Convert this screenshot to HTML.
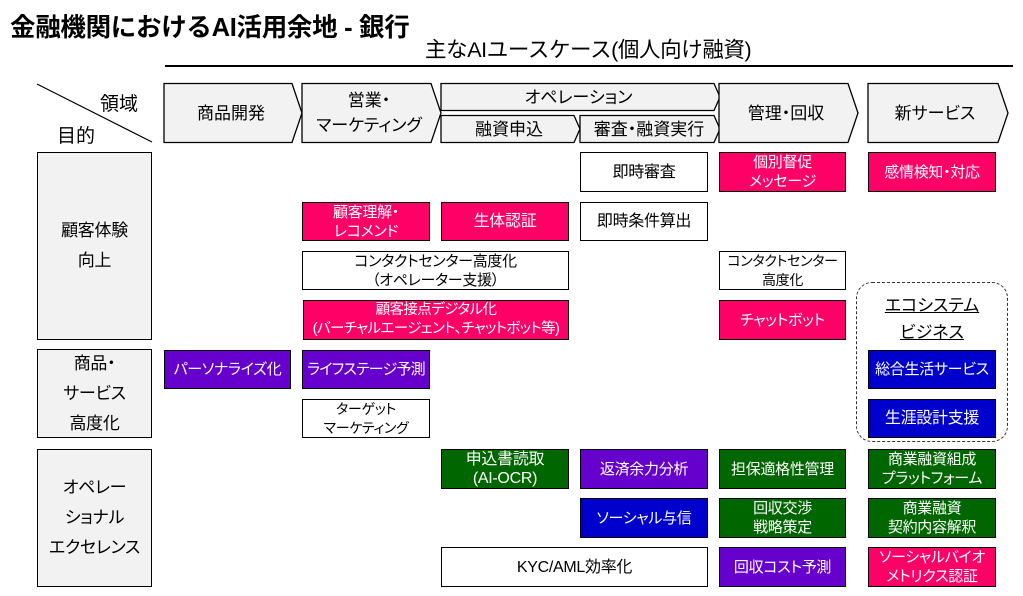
<!DOCTYPE html>
<html><head><meta charset="utf-8"><style>
*{margin:0;padding:0;box-sizing:border-box}
body{width:1023px;height:596px;background:#fff;position:relative;overflow:hidden;font-family:"Liberation Sans","Noto Sans CJK JP",sans-serif;color:#000}
.a{position:absolute}
.b{position:absolute;border:1.5px solid #000;display:flex;align-items:center;justify-content:center;text-align:center;font-size:15px;line-height:19px;letter-spacing:-0.3px;white-space:nowrap;font-feature-settings:"palt" 1;overflow:visible}
.w{background:#fff}
.p{background:#ff0066;color:#fff}
.v{background:#6600cc;color:#fff}
.u{background:#0000cc;color:#fff}
.g{background:#006600;color:#fff}
.l{background:#f2f2f2;font-size:17px;line-height:30px}
.h{position:absolute;display:flex;align-items:center;justify-content:center;text-align:center;font-size:17px;line-height:25px;white-space:nowrap;font-feature-settings:"palt" 1}
</style></head><body>
<div class="a" style="left:10px;top:7px;font-size:25.5px;font-weight:bold;letter-spacing:-0.3px;white-space:nowrap">金融機関におけるAI活用余地 - 銀行</div>
<div class="a" style="left:425px;top:33px;font-size:21.5px;letter-spacing:-0.4px;white-space:nowrap">主なAIユースケース(個人向け融資)</div>
<div class="a" style="left:165px;top:65px;width:848px;height:1.5px;background:#000"></div>

<svg class="a" style="left:0;top:0" width="1023" height="160">
<line x1="37" y1="84" x2="152" y2="142" stroke="#000" stroke-width="1.2"/>
<g fill="#f2f2f2" stroke="#000" stroke-width="1.3">
<polygon points="164,83.5 292,83.5 302,113 292,142.5 164,142.5"/>
<polygon points="302,83.5 431,83.5 441,113 431,142.5 302,142.5"/>
<polygon points="441,83.5 714,83.5 720,97 714,110.5 441,110.5"/>
<polygon points="441,115.5 574,115.5 580,129 574,142.5 441,142.5"/>
<polygon points="580,115.5 714,115.5 720,129 714,142.5 580,142.5"/>
<polygon points="719,83.5 848,83.5 858,113 848,142.5 719,142.5"/>
<polygon points="868,83.5 998,83.5 1008,113 998,142.5 868,142.5"/>
</g>
</svg>
<div class="a" style="left:100px;top:89px;font-size:19px">領域</div>
<div class="a" style="left:57px;top:121px;font-size:19px">目的</div>
<div class="h" style="left:164px;top:83px;width:134px;height:60px">商品開発</div>
<div class="h" style="left:302px;top:83px;width:134px;height:60px">営業・<br>マーケティング</div>
<div class="h" style="left:441px;top:83px;width:275px;height:28px">オペレーション</div>
<div class="h" style="left:441px;top:115px;width:136px;height:28px">融資申込</div>
<div class="h" style="left:580px;top:115px;width:138px;height:28px">審査・融資実行</div>
<div class="h" style="left:719px;top:83px;width:134px;height:60px">管理・回収</div>
<div class="h" style="left:868px;top:83px;width:134px;height:60px">新サービス</div>

<div class="b l" style="left:37px;top:152px;width:115px;height:188px">顧客体験<br>向上</div>
<div class="b l" style="left:37px;top:349px;width:115px;height:89px">商品・<br>サービス<br>高度化</div>
<div class="b l" style="left:37px;top:449px;width:115px;height:138px">オペレー<br>ショナル<br>エクセレンス</div>

<div class="a" style="left:856px;top:282px;width:152px;height:160px;border:1.3px dashed #333;border-radius:16px"></div>
<div class="a" style="left:856px;top:292px;width:152px;text-align:center;font-size:17px;line-height:27px;text-decoration:underline;font-feature-settings:'palt' 1">エコシステム<br>ビジネス</div>

<div class="b w" style="left:580px;top:152px;width:128px;height:40px;font-size:16px">即時審査</div>
<div class="b p" style="left:719px;top:152px;width:127px;height:40px">個別督促<br>メッセージ</div>
<div class="b p" style="left:868px;top:152px;width:128px;height:40px">感情検知・対応</div>

<div class="b p" style="left:302px;top:202px;width:128px;height:39px">顧客理解・<br>レコメンド</div>
<div class="b p" style="left:441px;top:202px;width:128px;height:39px;font-size:16px">生体認証</div>
<div class="b w" style="left:580px;top:202px;width:128px;height:39px;font-size:16px">即時条件算出</div>

<div class="b w" style="left:302px;top:251px;width:267px;height:39px">コンタクトセンター高度化<br>（オペレーター支援）</div>
<div class="b w" style="left:719px;top:251px;width:127px;height:39px;font-size:14px">コンタクトセンター<br>高度化</div>

<div class="b p" style="left:303px;top:300px;width:266px;height:40px;font-size:14.5px;letter-spacing:-0.6px">顧客接点デジタル化<br>(バーチャルエージェント、チャットボット等)</div>
<div class="b p" style="left:719px;top:300px;width:127px;height:40px">チャットボット</div>

<div class="b v" style="left:164px;top:350px;width:127px;height:39px">パーソナライズ化</div>
<div class="b v" style="left:302px;top:350px;width:128px;height:39px;letter-spacing:-0.8px">ライフステージ予測</div>
<div class="b u" style="left:868px;top:350px;width:128px;height:39px">総合生活サービス</div>

<div class="b w" style="left:302px;top:399px;width:128px;height:39px;font-size:14px">ターゲット<br>マーケティング</div>
<div class="b u" style="left:868px;top:399px;width:128px;height:39px;font-size:16px">生涯設計支援</div>

<div class="b g" style="left:441px;top:449px;width:128px;height:40px;font-size:16px">申込書読取<br>(AI-OCR)</div>
<div class="b v" style="left:580px;top:449px;width:128px;height:40px">返済余力分析</div>
<div class="b g" style="left:719px;top:449px;width:127px;height:40px">担保適格性管理</div>
<div class="b g" style="left:868px;top:449px;width:128px;height:40px">商業融資組成<br>プラットフォーム</div>

<div class="b u" style="left:580px;top:498px;width:128px;height:40px">ソーシャル与信</div>
<div class="b g" style="left:719px;top:498px;width:127px;height:40px">回収交渉<br>戦略策定</div>
<div class="b g" style="left:868px;top:498px;width:128px;height:40px">商業融資<br>契約内容解釈</div>

<div class="b w" style="left:441px;top:547px;width:267px;height:40px;font-size:16px">KYC/AML効率化</div>
<div class="b v" style="left:719px;top:547px;width:127px;height:40px">回収コスト予測</div>
<div class="b p" style="left:868px;top:547px;width:128px;height:40px">ソーシャルバイオ<br>メトリクス認証</div>
</body></html>
